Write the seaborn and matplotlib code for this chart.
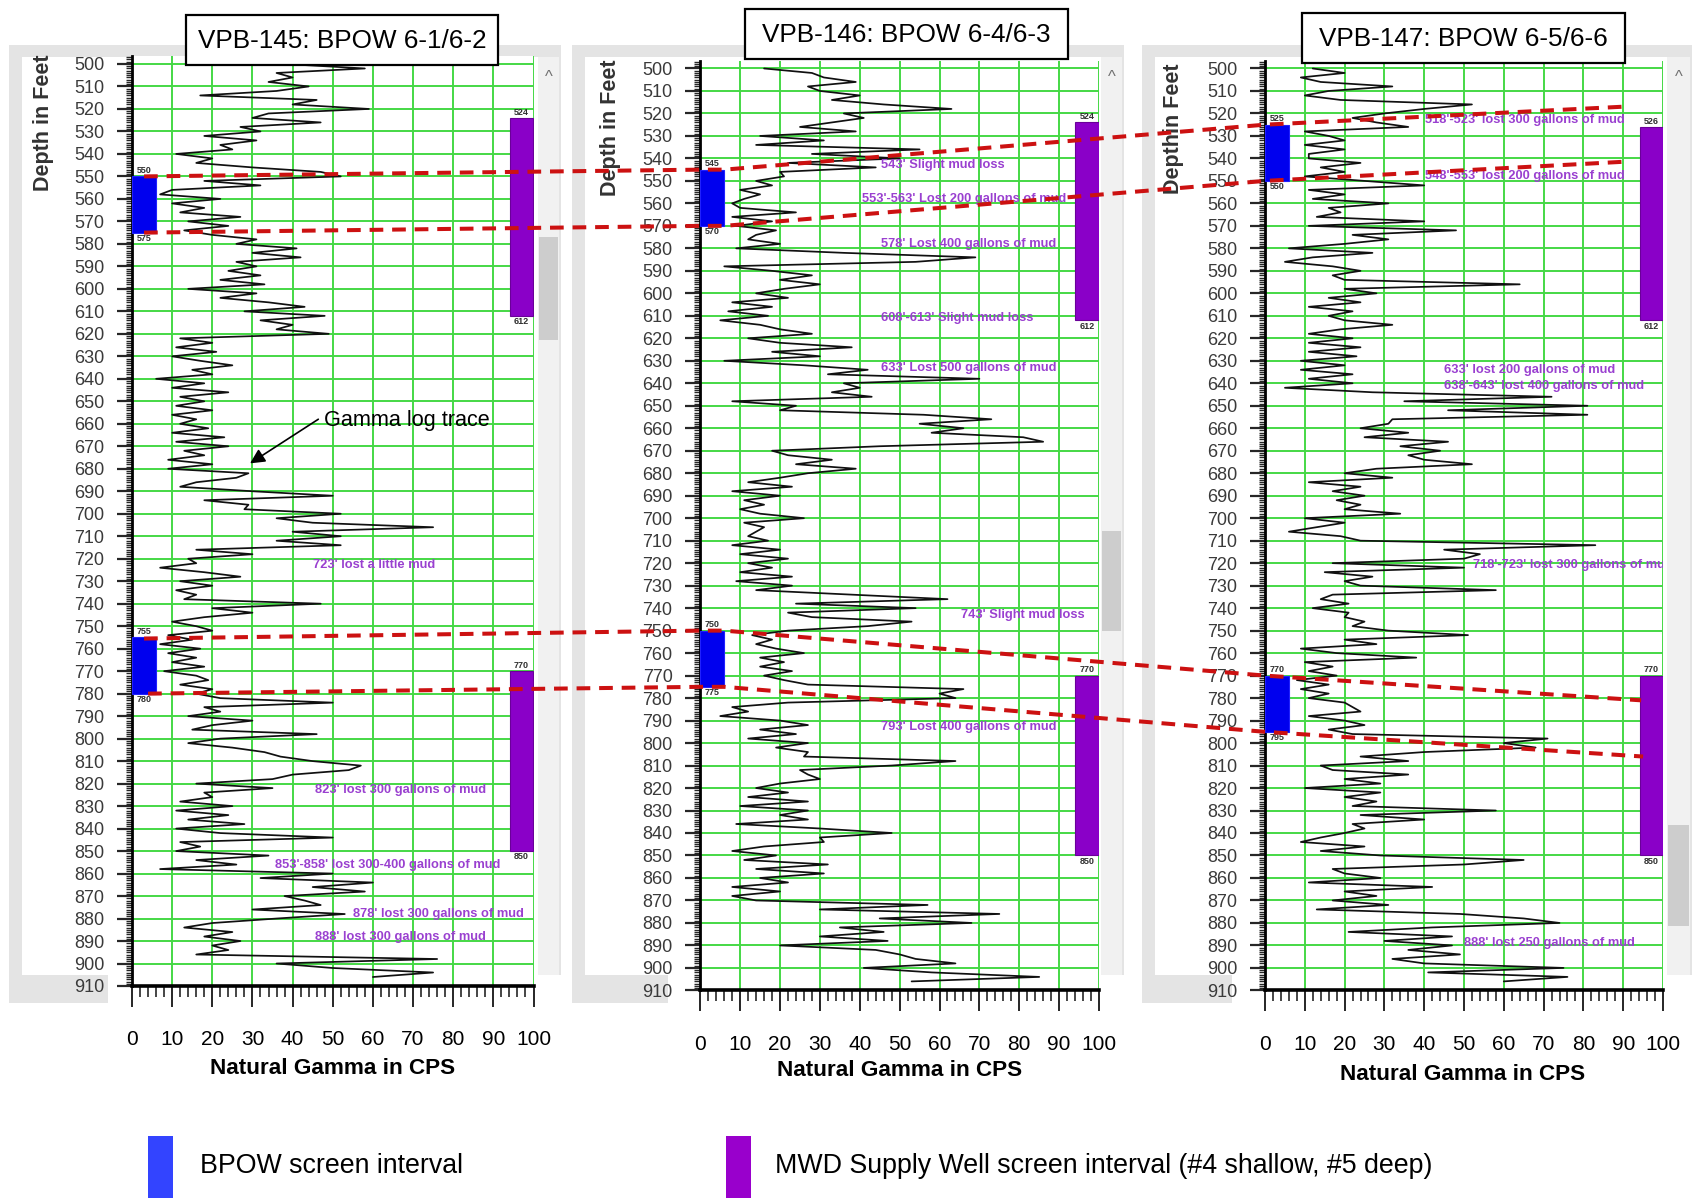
import numpy as np
import pandas as pd
import matplotlib
matplotlib.use("Agg")
import matplotlib.pyplot as plt
import seaborn as sns
from matplotlib.patches import Rectangle
from matplotlib.lines import Line2D
from matplotlib.ticker import MultipleLocator

# =========================
# Data
# =========================
depth = np.arange(500, 908, 2)  # sample depths in feet

gamma_145 = [38, 58, 36, 40, 34, 44, 36, 17, 46, 40,
             59, 34, 30, 47, 27, 32, 18, 31, 22, 25,
             11, 20, 16, 30, 47, 52, 18, 32, 10, 7,
             22, 10, 18, 12, 27, 14, 24, 13, 20, 31,
             26, 41, 30, 42, 26, 31, 24, 32, 22, 33,
             14, 31, 22, 34, 43, 28, 48, 32, 40, 36,
             49, 12, 20, 11, 21, 10, 17, 25, 15, 20,
             6, 18, 10, 24, 12, 18, 11, 20, 10, 16,
             12, 19, 10, 23, 11, 24, 13, 18, 9, 20,
             9, 29, 26, 16, 12, 30, 50, 18, 29, 28,
             52, 36, 45, 75, 40, 52, 36, 52, 16, 30,
             14, 16, 7, 18, 27, 12, 20, 11, 16, 13,
             47, 20, 30, 18, 10, 16, 20, 9, 15, 7,
             17, 9, 16, 10, 18, 8, 16, 19, 12, 20,
             16, 22, 50, 18, 22, 14, 30, 20, 15, 46,
             22, 14, 25, 33, 37, 45, 57, 54, 40, 35,
             16, 35, 18, 20, 12, 25, 11, 24, 14, 28,
             11, 22, 50, 12, 17, 11, 34, 16, 26, 7,
             50, 32, 60, 45, 58, 38, 43, 47, 30, 53,
             36, 20, 13, 25, 18, 27, 20, 24, 16, 76,
             36, 50, 75, 60]

gamma_146 = [16, 28, 31, 39, 27, 30, 40, 33, 46, 63,
             36, 41, 33, 25, 39, 15, 31, 14, 55, 28,
             50, 22, 44, 20, 21, 14, 18, 10, 15, 11,
             8, 10, 24, 8, 18, 9, 19, 14, 12, 20,
             9, 36, 69, 54, 6, 18, 28, 20, 30, 21,
             14, 22, 8, 18, 7, 17, 5, 15, 20, 28,
             12, 20, 38, 18, 30, 6, 26, 42, 32, 70,
             36, 40, 33, 43, 8, 24, 20, 56, 73, 55,
             66, 58, 81, 86, 45, 18, 22, 33, 24, 39,
             27, 20, 12, 23, 8, 20, 11, 16, 10, 15,
             26, 11, 16, 14, 12, 17, 8, 20, 10, 22,
             12, 18, 10, 23, 9, 23, 14, 38, 62, 24,
             54, 22, 28, 53, 42, 22, 13, 18, 14, 19,
             26, 15, 21, 15, 23, 16, 21, 27, 66, 60,
             64, 22, 8, 12, 5, 20, 27, 15, 24, 12,
             27, 19, 27, 26, 64, 48, 25, 27, 30, 20,
             14, 22, 12, 27, 10, 27, 20, 27, 9, 30,
             48, 30, 31, 16, 8, 19, 11, 32, 14, 31,
             15, 22, 8, 20, 8, 14, 57, 30, 75, 45,
             68, 35, 46, 30, 47, 20, 44, 50, 54, 64,
             41, 58, 85, 53]

gamma_147 = [12, 20, 9, 14, 32, 16, 10, 19, 52, 40,
             30, 22, 28, 36, 10, 16, 20, 10, 20, 11,
             11, 24, 14, 20, 10, 25, 40, 11, 20, 12,
             31, 16, 19, 13, 40, 11, 48, 22, 31, 20,
             6, 27, 12, 5, 17, 24, 17, 20, 64, 20,
             28, 16, 24, 11, 22, 16, 20, 32, 19, 11,
             22, 11, 24, 11, 23, 9, 20, 9, 22, 11,
             22, 5, 27, 72, 35, 81, 46, 81, 32, 31,
             24, 36, 25, 46, 34, 44, 36, 40, 52, 28,
             20, 32, 11, 24, 17, 25, 18, 24, 20, 34,
             10, 20, 13, 6, 19, 24, 83, 45, 54, 50,
             17, 50, 15, 27, 20, 24, 58, 17, 14, 21,
             12, 21, 20, 25, 22, 31, 51, 20, 28, 9,
             18, 38, 10, 17, 11, 18, 8, 16, 9, 16,
             11, 20, 22, 24, 11, 20, 25, 16, 22, 71,
             60, 68, 40, 24, 36, 14, 17, 36, 20, 29,
             10, 29, 20, 28, 22, 58, 24, 40, 22, 25,
             20, 14, 9, 25, 14, 29, 65, 50, 17, 20,
             29, 11, 42, 20, 28, 17, 31, 13, 49, 65,
             74, 42, 21, 47, 30, 47, 36, 49, 32, 40,
             75, 41, 76, 60]

titles = ["VPB-145: BPOW 6-1/6-2", "VPB-146: BPOW 6-4/6-3", "VPB-147: BPOW 6-5/6-6"]
ylabels = ["Depth in Feet", "Depth in Feet", "Depthin Feet"]

# BPOW screen intervals (blue) and MWD supply well screens (purple)
bpow_top = [[550, 755], [545, 750], [525, 770]]
bpow_bot = [[575, 780], [570, 775], [550, 795]]
mwd_top = [[524, 770], [524, 770], [526, 770]]
mwd_bot = [[612, 850], [612, 850], [612, 850]]

notes_145 = [(45, 723, "723' lost a little mud"),
             (45.5, 823, "823' lost 300 gallons of mud"),
             (35.5, 856, "853'-858' lost 300-400 gallons of mud"),
             (55, 878, "878' lost 300 gallons of mud"),
             (45.5, 888, "888' lost 300 gallons of mud")]
notes_146 = [(45.4, 543, "543' Slight mud loss"),
             (40.5, 558, "553'-563' Lost 200 gallons of mud"),
             (45.4, 578, "578' Lost 400 gallons of mud"),
             (45.4, 611, "608'-613' Slight mud loss"),
             (45.4, 633, "633' Lost 500 gallons of mud"),
             (65.5, 743, "743' Slight mud loss"),
             (45.4, 793, "793' Lost 400 gallons of mud")]
notes_147 = [(40.2, 523, "518'-523' lost 300 gallons of mud"),
             (40.2, 548, "548'-553' lost 200 gallons of mud"),
             (45, 634, "633' lost 200 gallons of mud"),
             (45, 641, "638'-643' lost 400 gallons of mud"),
             (52.3, 721, "718'-723' lost 300 gallons of mud"),
             (50, 889, "888' lost 250 gallons of mud")]

# correlation lines: (panel, gamma, depth)
corr_lines = [
    [(0, 3, 550), (1, 0, 545), (1, 6, 545), (2, 0, 525), (2, 90, 517)],
    [(0, 3, 575), (1, 0, 570), (1, 6, 570), (2, 0, 550), (2, 90, 541.5)],
    [(0, 3, 755.5), (1, 0, 750), (1, 6, 750), (2, 0, 770), (2, 94.5, 781)],
    [(0, 4, 780), (1, 0, 775), (1, 6, 775), (2, 0, 795), (2, 95, 806)],
]

# =========================
# Style
# =========================
sns.set_style("white")
plt.rcParams["font.family"] = ["Liberation Sans", "DejaVu Sans"]

W, H = 1692, 1199
fig = plt.figure(figsize=(W / 100, H / 100), dpi=100)
fig.patch.set_facecolor("white")


def frect(x0, y0, x1, y1, **kw):
    r = Rectangle((x0 / W, 1 - y1 / H), (x1 - x0) / W, (y1 - y0) / H,
                  transform=fig.transFigure, **kw)
    fig.add_artist(r)
    return r


def ftext(x, y, s, **kw):
    return fig.text(x / W, 1 - y / H, s, **kw)


GREEN = "#45d845"
BLUE = "#0000ee"
PURPLE = "#8a00c8"
NOTE = "#9a40d0"

# window frames (left, right, scrollbar x0, x1, thumb y0, y1, axis-area left)
windows = [(9, 561, 538, 559, 237, 340, 108),
           (572, 1124, 1101, 1122, 531, 631, 668),
           (1142, 1692, 1667, 1690, 825, 926, 1232)]
for (wl, wr, sx0, sx1, ty0, ty1, al) in windows:
    frect(wl, 45, wr, 1003, facecolor="#e4e4e4", edgecolor="none", zorder=-10)
    frect(wl + 13, 57, sx0, 975, facecolor="white", edgecolor="none", zorder=-9)
    frect(al, 975, wr, 1003, facecolor="white", edgecolor="none", zorder=-9)
    frect(sx0, 57, sx1, 975, facecolor="#f1f1f1", edgecolor="none", zorder=-9)
    frect(sx0 + 1, ty0, sx1 - 1, ty1, facecolor="#cdcdcd", edgecolor="none", zorder=-8)
    ftext((sx0 + sx1) / 2, 78, "^", ha="center", va="center", fontsize=12,
          color="#707070", zorder=-7)

# axes rectangles in pixels: left, right, top, bottom
ax_px = [(132, 533.5, 56.1, 986), (700.3, 1099, 60.6, 990.4), (1265, 1663, 60.6, 990.4)]
gammas = [gamma_145, gamma_146, gamma_147]
notes = [notes_145, notes_146, notes_147]
axes = []

for i in range(3):
    l, r, t, b = ax_px[i]
    ax = fig.add_axes([l / W, 1 - b / H, (r - l) / W, (b - t) / H])
    ax.set_facecolor("white")
    axes.append(ax)

    df = pd.DataFrame({"depth": depth, "gamma": gammas[i]})
    sns.lineplot(data=df, x="gamma", y="depth", orient="y", sort=False,
                 estimator=None, color="#101010", lw=1.25, ax=ax, zorder=3)

    ax.set_xlim(0, 100)
    ax.set_ylim(910, 496.5)

    # screen intervals
    for tp, bt in zip(bpow_top[i], bpow_bot[i]):
        ax.bar(3, bt - tp, bottom=tp, width=6, color=BLUE, edgecolor="#2020ff",
               lw=0.8, zorder=4)
        ax.text(3, tp - 0.6, str(tp), ha="center", va="bottom", fontsize=6.5,
                fontweight="bold", color="#303030", zorder=5, clip_on=False)
        ax.text(3, bt + 0.6, str(bt), ha="center", va="top", fontsize=6.5,
                fontweight="bold", color="#303030", zorder=5, clip_on=False)
    for tp, bt in zip(mwd_top[i], mwd_bot[i]):
        ax.bar(97, bt - tp, bottom=tp, width=5.8, color=PURPLE, edgecolor="#6a0099",
               lw=0.8, zorder=4)
        ax.text(97, tp - 0.6, str(tp), ha="center", va="bottom", fontsize=6.5,
                fontweight="bold", color="#303030", zorder=5, clip_on=False)
        ax.text(97, bt + 0.6, str(bt), ha="center", va="top", fontsize=6.5,
                fontweight="bold", color="#303030", zorder=5, clip_on=False)

    for (gx, gy, s) in notes[i]:
        ax.text(gx, gy, s, ha="left", va="center", fontsize=9.3, fontweight="bold",
                color=NOTE, zorder=5, clip_on=True)

    # grid + ticks
    ax.set_xticks(range(0, 101, 10))
    ax.set_xticklabels([str(v) for v in range(0, 101, 10)], fontsize=15,
                       color="black")
    ax.set_yticks(range(500, 911, 10))
    ax.set_yticklabels([str(v) for v in range(500, 911, 10)], fontsize=13,
                       color="#3a3a3a")
    ax.xaxis.set_minor_locator(MultipleLocator(2))
    ax.yaxis.set_minor_locator(MultipleLocator(1))
    ax.grid(which="major", color=GREEN, lw=1.4)
    ax.set_axisbelow(True)
    ax.tick_params(axis="x", which="major", direction="out", length=15, width=1.4,
                   pad=17, bottom=True)
    ax.tick_params(axis="x", which="minor", direction="out", length=8, width=1.2,
                   bottom=True)
    ax.tick_params(axis="y", which="major", direction="out", length=11, width=1.6,
                   pad=9, left=True)
    ax.tick_params(axis="y", which="minor", direction="out", length=4.5, width=1.0,
                   left=True)
    for side in ["top", "right"]:
        ax.spines[side].set_visible(False)
    ax.spines["left"].set_color("black")
    ax.spines["left"].set_linewidth(2)
    ax.spines["bottom"].set_color("black")
    ax.spines["bottom"].set_linewidth(2.6)
    ax.set_xlabel("")
    ax.set_ylabel("")

# annotation arrow for the trace
axes[0].annotate("Gamma log trace", xy=(29.4, 677.6), xytext=(47.8, 658.7),
                 fontsize=15.6, ha="left", va="center",
                 color="black", zorder=6,
                 arrowprops=dict(arrowstyle="-|>", color="black", lw=1.2,
                                 mutation_scale=22, relpos=(0, 0.75),
                                 shrinkA=2, shrinkB=0))

# titles in boxes
title_boxes = [(186, 15, 498, 65), (745, 9, 1068, 59), (1302, 13, 1625, 63)]
for (x0, y0, x1, y1), s in zip(title_boxes, titles):
    frect(x0, y0, x1, y1, facecolor="white", edgecolor="black", lw=1.6, zorder=8)
    ftext((x0 + x1) / 2, (y0 + y1) / 2 + 1, s, ha="center", va="center",
          fontsize=18.8, color="black", zorder=9)

# axis titles
ylab_pos = [(43, 123), (610, 128), (1174, 129)]
for (x, y), s in zip(ylab_pos, ylabels):
    ftext(x, y, s, rotation=90, ha="center", va="center", fontsize=15.5,
          fontweight="bold", color="#333333")
xlab_pos = [(333, 1068), (900, 1071), (1463, 1074)]
for (x, y) in xlab_pos:
    ftext(x, y, "Natural Gamma in CPS", ha="center", va="center", fontsize=16.2,
          fontweight="bold", color="black")

# red dashed correlation lines across the three logs
to_fig = fig.transFigure.inverted()
for pts in corr_lines:
    xy = [to_fig.transform(axes[p].transData.transform((g, d))) for p, g, d in pts]
    xs = [q[0] for q in xy]
    ys = [q[1] for q in xy]
    fig.add_artist(Line2D(xs, ys, transform=fig.transFigure, color="#cc1111",
                          lw=2.9, dashes=(3.4, 2.2), zorder=10))

# legend
frect(148, 1136, 173, 1198, facecolor="#3344ff", edgecolor="none")
ftext(200, 1166, "BPOW screen interval", ha="left", va="center", fontsize=19.3,
      color="black")
frect(726, 1136, 751, 1198, facecolor="#9900cc", edgecolor="none")
ftext(775, 1166, "MWD Supply Well screen interval (#4 shallow, #5 deep)",
      ha="left", va="center", fontsize=19.3, color="black")

plt.savefig("out.png", dpi=100)
